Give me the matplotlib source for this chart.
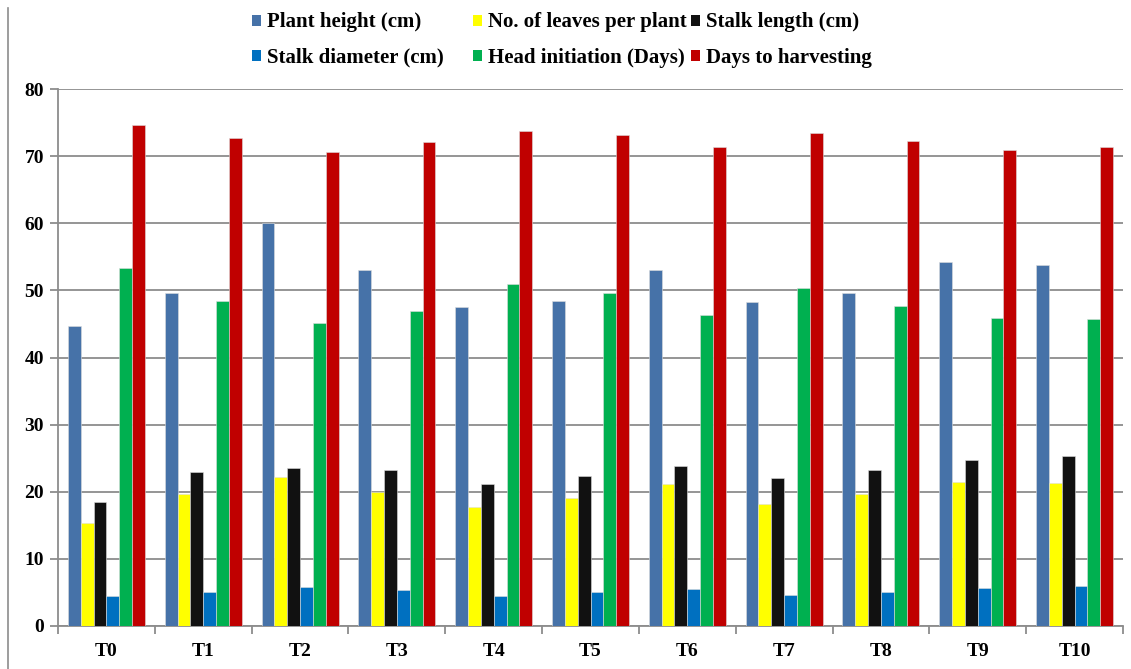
import numpy as np
import matplotlib
matplotlib.use('Agg')
import matplotlib.pyplot as plt
from matplotlib.patches import Rectangle
from matplotlib.lines import Line2D

# Treatments and measured traits
treatments = ['T0', 'T1', 'T2', 'T3', 'T4', 'T5', 'T6', 'T7', 'T8', 'T9', 'T10']
plant_height = [44.7, 49.6, 60.1, 53.1, 47.5, 48.4, 53.1, 48.2, 49.6, 54.2, 53.8]
leaves_per_plant = [15.4, 19.6, 22.2, 20.0, 17.8, 19.1, 21.1, 18.2, 19.6, 21.4, 21.3]
stalk_length = [18.4, 23.0, 23.5, 23.3, 21.1, 22.3, 23.9, 22.1, 23.2, 24.8, 25.4]
stalk_diameter = [4.5, 5.1, 5.85, 5.3, 4.5, 5.0, 5.5, 4.6, 5.1, 5.7, 6.0]
head_initiation = [53.4, 48.4, 45.2, 46.9, 51.0, 49.6, 46.3, 50.3, 47.6, 45.9, 45.8]
days_to_harvest = [74.7, 72.65, 70.6, 72.1, 73.7, 73.1, 71.3, 73.5, 72.2, 70.9, 71.3]

series = [
    ('Plant height (cm)', plant_height, '#4672A8'),
    ('No. of leaves per plant', leaves_per_plant, '#FFFF00'),
    ('Stalk length (cm)', stalk_length, '#111111'),
    ('Stalk diameter (cm)', stalk_diameter, '#0070C0'),
    ('Head initiation (Days)', head_initiation, '#00B050'),
    ('Days to harvesting', days_to_harvest, '#C00000'),
]

plt.rcParams['font.family'] = ['Liberation Serif', 'DejaVu Serif']
plt.rcParams['font.weight'] = 'bold'

W, H = 1131, 669
fig = plt.figure(figsize=(W / 100, H / 100), dpi=100)
ax = fig.add_axes([58 / W, 1 - 626 / H, (1123 - 58) / W, (626 - 89) / H])

x = np.arange(len(treatments))
w = 0.1325
for i, (name, vals, col) in enumerate(series):
    ax.bar(x + (i - 2.5) * w, vals, width=w, color=col, zorder=3,
           edgecolor='#dddddd', linewidth=0.4)

ax.set_xlim(-0.5, len(treatments) - 0.5)
ax.set_ylim(0, 80)
ax.set_yticks(range(0, 81, 10))
ax.yaxis.grid(True, color='#8c8c8c', linewidth=1.3, zorder=0)
ax.set_axisbelow(True)

ax.set_xticks(x)
ax.set_xticklabels(treatments, fontsize=14, fontweight='bold')
ax.set_xticks(np.arange(-0.5, len(treatments), 1), minor=True)
ax.tick_params(axis='x', which='major', length=0, pad=12)
ax.tick_params(axis='x', which='minor', length=6, color='#8c8c8c', width=1.3)
ax.tick_params(axis='y', length=6, color='#8c8c8c', width=1.3, labelsize=14, pad=4)
for lbl in ax.get_yticklabels():
    lbl.set_fontweight('bold')

for s in ['top', 'right']:
    ax.spines[s].set_visible(False)
for s in ['left', 'bottom']:
    ax.spines[s].set_color('#8c8c8c')
    ax.spines[s].set_linewidth(1.3)

# legend: three columns, two rows, laid out in pixels
col_x = [252, 473, 691]
row_y = [21, 56]
for k, (name, vals, col) in enumerate(series):
    cx = col_x[k % 3]
    cy = row_y[k // 3]
    fig.add_artist(Rectangle((cx / W, 1 - (cy + 5) / H), 9 / W, 11 / H,
                             transform=fig.transFigure, facecolor=col,
                             edgecolor='none'))
    fig.text((cx + 15) / W, 1 - (cy + 1.5) / H, name, fontsize=15, fontweight='bold',
             va='center', ha='left')

# left border of the chart area
fig.add_artist(Line2D([7.5 / W, 7.5 / W], [0.0, 1 - 8 / H], transform=fig.transFigure,
                      color='#8c8c8c', linewidth=1.2))

fig.savefig('out.png', dpi=100)
